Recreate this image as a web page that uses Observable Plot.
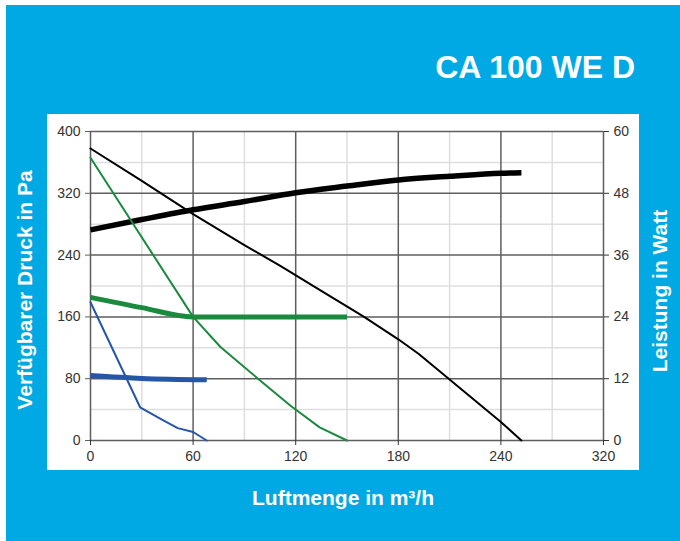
<!DOCTYPE html>
<html>
<head>
<meta charset="utf-8">
<script src="https://cdn.jsdelivr.net/npm/d3@7"></script>
<script src="https://cdn.jsdelivr.net/npm/@observablehq/plot@0.6"></script>
<style>
  html, body { margin: 0; padding: 0; background: #ffffff; }
  #wrap { position: relative; width: 680px; height: 541px; overflow: hidden; font-family: "Liberation Sans", Arial, sans-serif; }
  #blue { position: absolute; left: 6px; top: 5px; width: 674px; height: 536px; background: #00a9e3; }
  #panel { position: absolute; left: 47px; top: 114px; width: 592px; height: 356px; background: #ffffff; }
  #chart { position: absolute; left: 0; top: 0; }
  .lbl { position: absolute; color: #ffffff; font-weight: bold; white-space: nowrap; }
  #title { right: 45px; top: 49px; font-size: 32px; }
  #xlab { left: 343px; top: 486px; font-size: 21px; transform: translateX(-50%); }
  #ylab { left: 25px; top: 290px; font-size: 21px; transform: translate(-50%, -50%) rotate(-90deg); }
  #y2lab { left: 660px; top: 291px; font-size: 21px; transform: translate(-50%, -50%) rotate(-90deg); }
</style>
</head>
<body>
<div id="wrap">
  <div id="blue"></div>
  <div id="panel"></div>
  <div id="chart"></div>
  <div class="lbl" id="title">CA 100 WE D</div>
  <div class="lbl" id="xlab">Luftmenge in m³/h</div>
  <div class="lbl" id="ylab">Verfügbarer Druck in Pa</div>
  <div class="lbl" id="y2lab">Leistung in Watt</div>
</div>
<script>
// Axis ticks
const xTickValues = [0, 60, 120, 180, 240, 300];
const xTickLabels = ["0", "60", "120", "180", "240", "320"];
const xMinor = [30, 90, 150, 210, 270];
const yTickValues = [0, 80, 160, 240, 320, 400];
const yMinor = [40, 120, 200, 280, 360];
const wattTickLabels = [0, 12, 24, 36, 48, 60];
const paMax = 400, wattMax = 60;

// Pressure curves (Pa)
const blackPressX = [0, 30, 60, 90, 111, 134, 154, 160, 180, 192, 210, 240, 252];
const blackPressY = [378, 336, 293, 253, 226, 195, 168, 160, 131, 112, 79, 24, 0];
const greenPressX = [0, 60, 76, 99, 117, 134, 150];
const greenPressY = [366, 160, 121, 78, 45, 17, 0];
const bluePressX = [0, 29, 41, 51, 60, 68];
const bluePressY = [179, 43, 28, 16, 11, 0];

// Power curves (Watt)
const blackPowerX = [0, 30, 60, 90, 120, 150, 180, 210, 240, 252];
const blackPowerY = [40.9, 42.9, 44.8, 46.4, 48.1, 49.4, 50.6, 51.3, 51.9, 52.0];
const greenPowerX = [0, 30, 60, 150];
const greenPowerY = [27.8, 25.8, 24.0, 24.0];
const bluePowerX = [0, 30, 68];
const bluePowerY = [12.6, 12.05, 11.8];

const toW = v => v * paMax / wattMax;   // map watts onto the pressure scale
const pts = (xs, ys, f = v => v) => xs.map((x, i) => ({x, y: f(ys[i])}));

const majorColor = "#5e5e5e";
const minorColor = "#dedede";
const green = "#1a8a3e";
const blue = "#2556a8";

const chart = Plot.plot({
  width: 680,
  height: 541,
  marginLeft: 90,
  marginRight: 77,
  marginTop: 131,
  marginBottom: 101,
  style: {background: "transparent", fontFamily: "'Liberation Sans', Arial, sans-serif", fontSize: "14px", color: "#333"},
  x: {domain: [0, 300]},
  y: {domain: [0, paMax]},
  marks: [
    Plot.ruleX(xMinor, {stroke: minorColor, strokeWidth: 1.5}),
    Plot.ruleY(yMinor, {stroke: minorColor, strokeWidth: 1.5}),
    Plot.ruleX(xTickValues, {stroke: majorColor, strokeWidth: 1.5}),
    Plot.ruleY(yTickValues, {stroke: majorColor, strokeWidth: 1.5}),
    Plot.axisY({ticks: yTickValues, tickSize: 5, tickPadding: 5, label: null, stroke: majorColor}),
    Plot.axisY({anchor: "right", ticks: yTickValues, tickFormat: (d, i) => String(wattTickLabels[i]), tickSize: 5, tickPadding: 5, label: null}),
    Plot.axisX({ticks: xTickValues, tickFormat: (d, i) => xTickLabels[i], tickSize: 5, tickPadding: 6, label: null}),
    // power curves (thick)
    Plot.line(pts(blackPowerX, blackPowerY, toW), {x: "x", y: "y", stroke: "#000", strokeWidth: 5.5, strokeLinecap: "butt", curve: "monotone-x"}),
    Plot.line(pts(greenPowerX, greenPowerY, toW), {x: "x", y: "y", stroke: green, strokeWidth: 5, strokeLinecap: "butt", curve: "monotone-x"}),
    Plot.line(pts(bluePowerX, bluePowerY, toW), {x: "x", y: "y", stroke: blue, strokeWidth: 5, strokeLinecap: "butt", curve: "monotone-x"}),
    // pressure curves (thin)
    Plot.line(pts(blackPressX, blackPressY), {x: "x", y: "y", stroke: "#000", strokeWidth: 2}),
    Plot.line(pts(greenPressX, greenPressY), {x: "x", y: "y", stroke: green, strokeWidth: 2}),
    Plot.line(pts(bluePressX, bluePressY), {x: "x", y: "y", stroke: blue, strokeWidth: 2})
  ]
});
document.getElementById("chart").appendChild(chart);
</script>
</body>
</html>
